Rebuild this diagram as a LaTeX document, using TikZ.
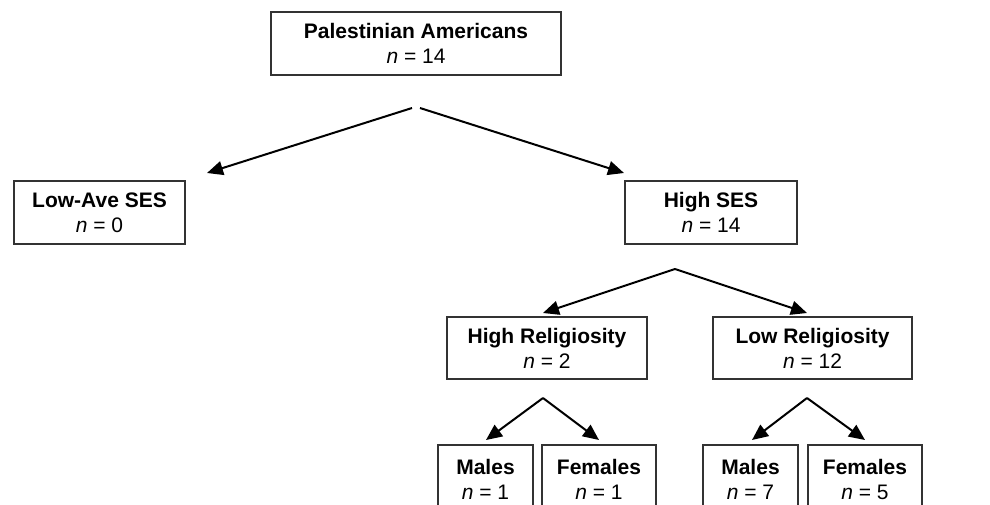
\documentclass[tikz,border=0pt]{standalone}
\usepackage{fontspec}
\setmainfont{Liberation Sans}
\usetikzlibrary{arrows.meta}

\tikzset{
  grpbox/.style={draw=black!80, line width=0.6pt, align=center, inner sep=0pt,
    minimum height=31.5pt, font=\fontsize{10.5}{12.5}\selectfont},
  splitarrow/.style={line width=1pt, -{Triangle[length=8pt,width=7pt]}}
}

\begin{document}
\begin{tikzpicture}[x=0.5pt,y=-0.5pt]
  \clip (0,0) rectangle (990,504);

  % boxes
  \node[grpbox, minimum width=145pt] (pal) at (416,43.5) {\textbf{Palestinian Americans}\\\textit{n} = 14};
  \node[grpbox, minimum width=85.5pt] (lowses) at (99.5,212.5) {\textbf{Low-Ave SES}\\\textit{n} = 0};
  \node[grpbox, minimum width=86pt] (highses) at (711,212.5) {\textbf{High SES}\\\textit{n} = 14};
  \node[grpbox, minimum width=100pt, minimum height=31pt] (highrel) at (547,348) {\textbf{High Religiosity}\\\textit{n} = 2};
  \node[grpbox, minimum width=99.5pt, minimum height=31pt] (lowrel) at (812.5,348) {\textbf{Low Religiosity}\\\textit{n} = 12};
  \node[grpbox, minimum width=47.5pt, minimum height=34pt] (hmale) at (485.5,479) {\textbf{Males}\\\textit{n} = 1};
  \node[grpbox, minimum width=57pt, minimum height=34pt] (hfemale) at (599,479) {\textbf{Females}\\\textit{n} = 1};
  \node[grpbox, minimum width=47.5pt, minimum height=34pt] (lmale) at (750.5,479) {\textbf{Males}\\\textit{n} = 7};
  \node[grpbox, minimum width=57pt, minimum height=34pt] (lfemale) at (865,479) {\textbf{Females}\\\textit{n} = 5};

  % split points and arrow tips
  \coordinate (palL) at (412,108);
  \coordinate (palR) at (420,108);
  \coordinate (lowsesTip) at (207,173);
  \coordinate (highsesTip) at (624,173);
  \coordinate (sesSplit) at (675,269);
  \coordinate (highrelTip) at (543,313);
  \coordinate (lowrelTip) at (807,313);
  \coordinate (hrSplit) at (543,398);
  \coordinate (lrSplit) at (807,398);

  % arrows
  \draw[splitarrow] (palL) -- (lowsesTip);
  \draw[splitarrow] (palR) -- (highsesTip);
  \draw[splitarrow] (sesSplit) -- (highrelTip);
  \draw[splitarrow] (sesSplit) -- (lowrelTip);
  \draw[splitarrow] (hrSplit) -- (486,440);
  \draw[splitarrow] (hrSplit) -- (599,440);
  \draw[splitarrow] (lrSplit) -- (752,440);
  \draw[splitarrow] (lrSplit) -- (865,440);
\end{tikzpicture}
\end{document}
